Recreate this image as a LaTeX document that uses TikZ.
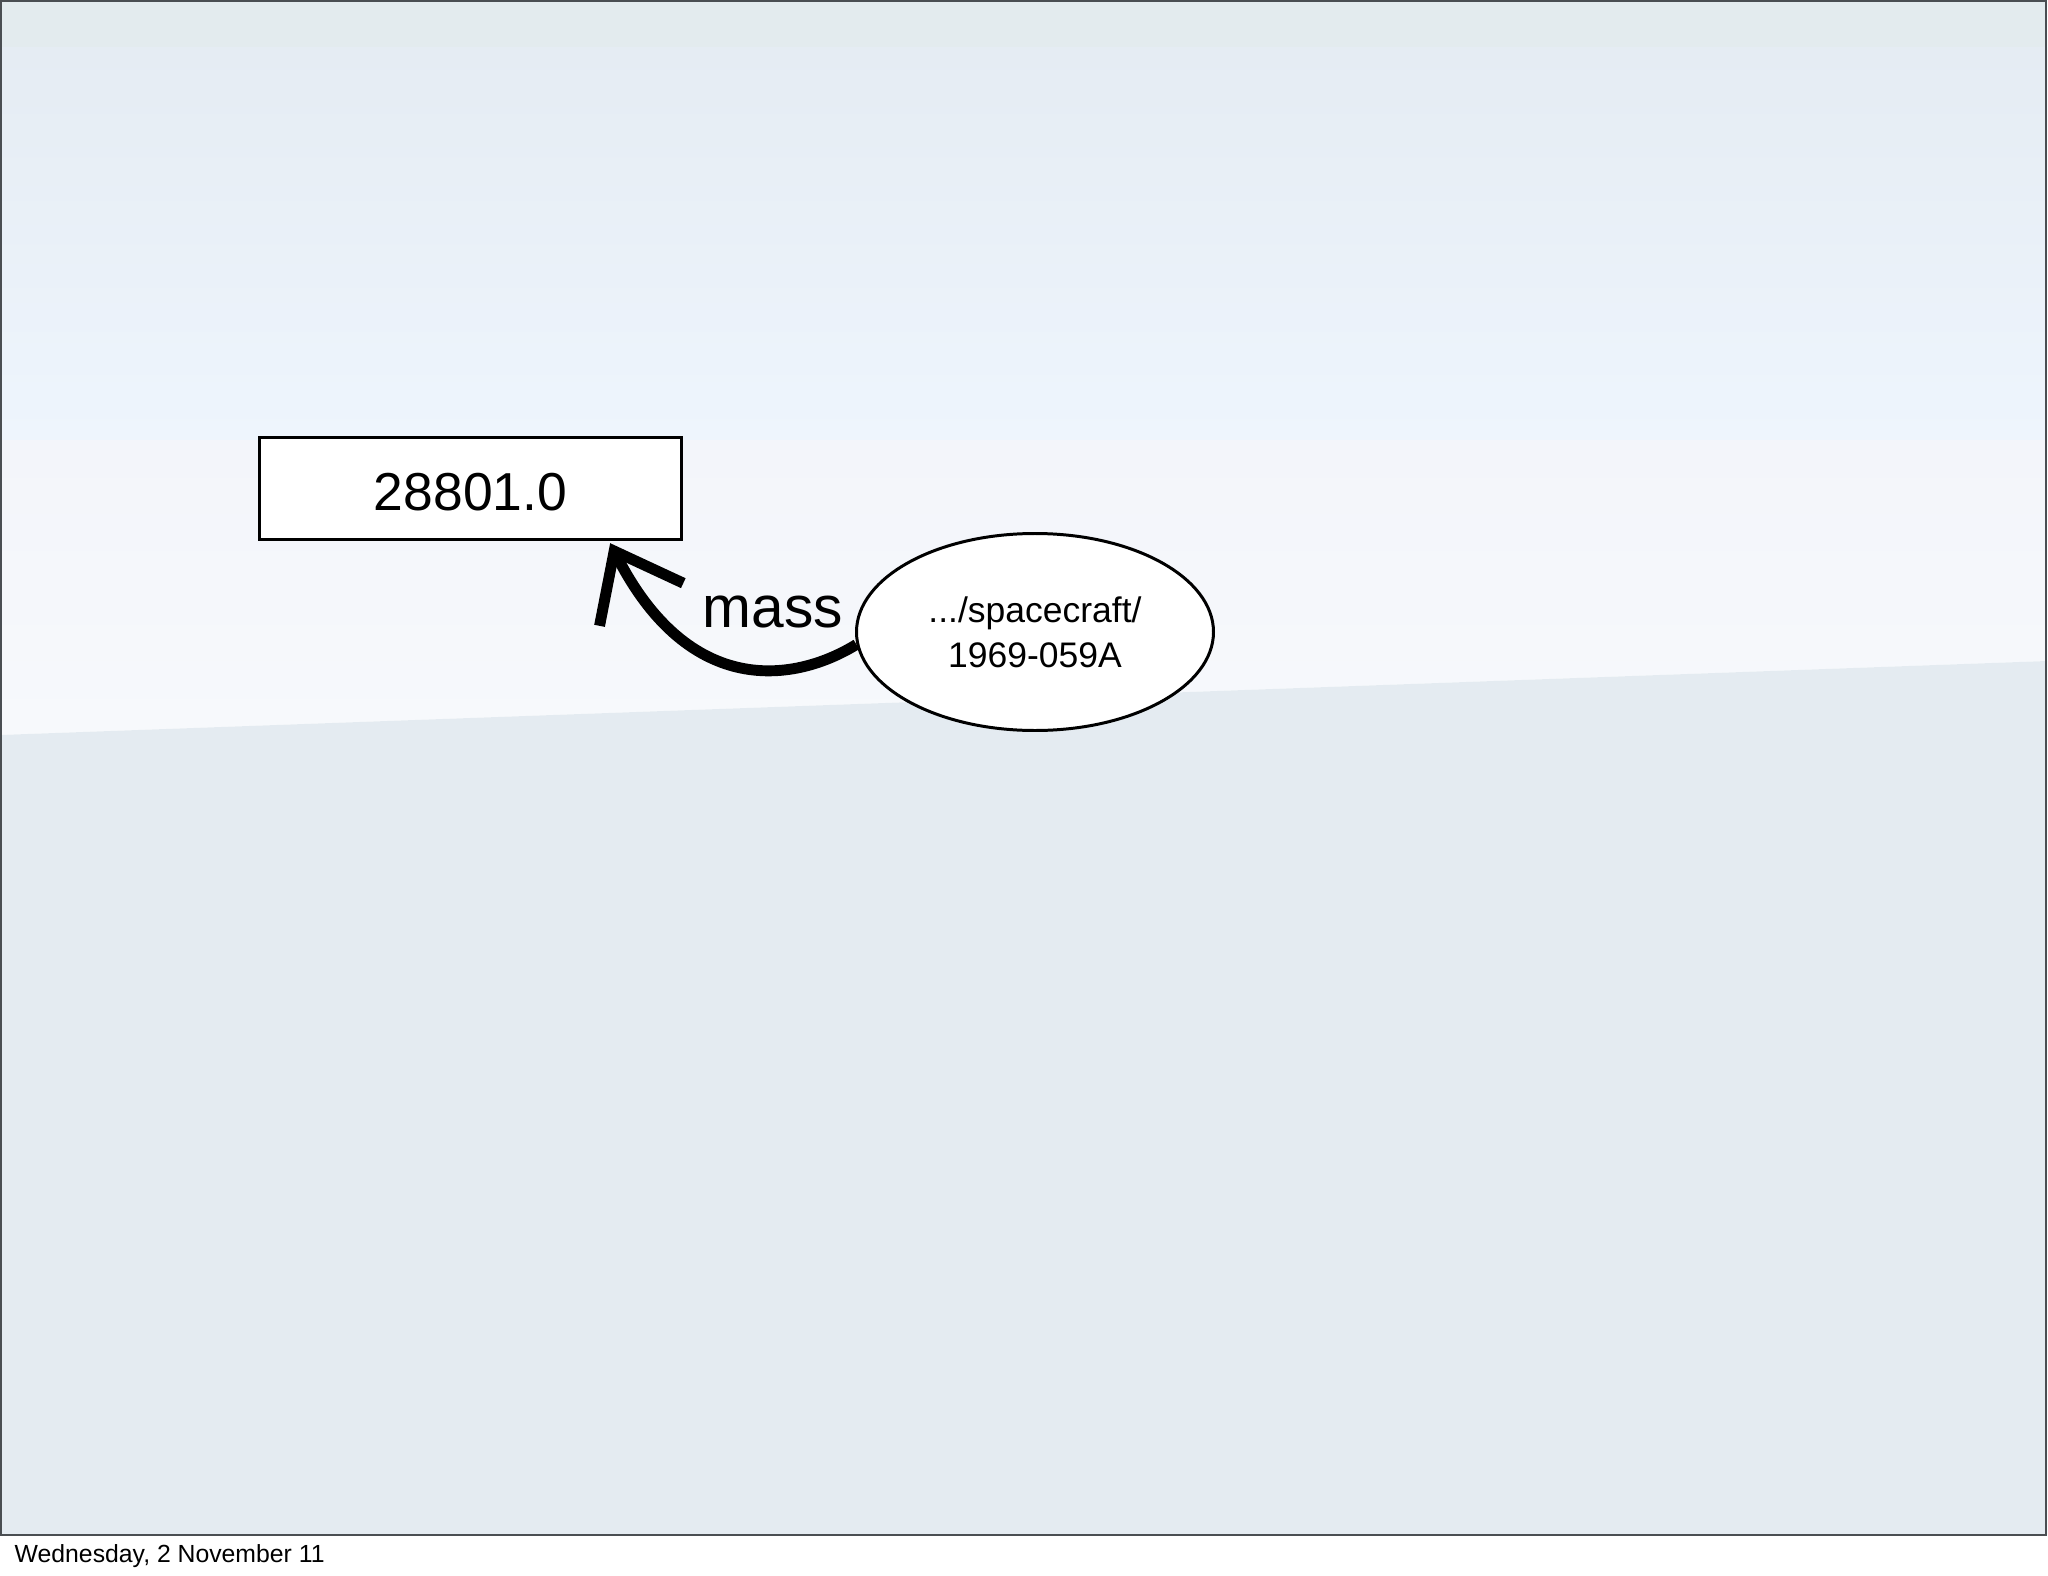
\documentclass[tikz,border=0pt]{standalone}
\usepackage{fontspec}
\setmainfont{Liberation Sans}
\usetikzlibrary{shapes.geometric, arrows.meta, positioning, calc}
\usepackage{xcolor}
\definecolor{slideband}{HTML}{E3EBEE}
\definecolor{slidetop}{HTML}{E5ECF3}
\definecolor{slidemid}{HTML}{EEF5FD}
\definecolor{slidepale}{HTML}{F3F5FA}
\definecolor{slidelow}{HTML}{F7F9FC}
\definecolor{slidebase}{HTML}{E4EBF1}
\definecolor{framegray}{HTML}{4A4E52}

\begin{document}
\begin{tikzpicture}[
        valbox/.style={rectangle, draw, line width=0.95pt, fill=white, minimum width=4.22cm, minimum height=1.02cm, text height=0.44cm, text depth=0pt, font=\fontsize{15.2}{18}\selectfont},
        res/.style={ellipse, draw, line width=0.85pt, fill=white, minimum width=3.57cm, minimum height=1.97cm, inner sep=0pt, align=center, font=\fontsize{10.1}{12.8}\selectfont},
        link/.style={-{Straight Barb[length=6mm, width=9.4mm]}, line width=3.1pt},
        lbl/.style={font=\fontsize{16.7}{20}\selectfont}
    ]
        \useasboundingbox (0,0) rectangle (20.48,-15.76);

        % Slide background
        \fill[slideband] (0,0) rectangle (20.47,-0.48);
        \shade[top color=slidetop, bottom color=slidemid] (0,-0.48) rectangle (20.47,-4.4);
        \shade[top color=slidepale, bottom color=slidelow] (0,-4.4) -- (20.47,-4.4) -- (20.47,-6.61) -- (0,-7.35) -- cycle;
        \fill[slidebase] (0,-7.35) -- (20.47,-6.61) -- (20.47,-15.35) -- (0,-15.35) -- cycle;
        \draw[framegray, line width=0.7pt] (0.01,-0.01) rectangle (20.46,-15.35);

        % Value and resource
        \node[valbox] (val) at (4.705,-4.885) {28801.0};
        \node[res] (craft) at (10.35,-6.32) {.../spacecraft/\\1969-059A};

        % Property arc
        \node[lbl, anchor=base] (masslbl) at (7.73,-6.27) {mass};
        \draw[link] (craft.184) .. controls +(-0.6,-0.37) and +(0.8,-1.57) .. ([xshift=-0.73cm, yshift=-0.02cm]val.south east);

        % Footer
        \node[anchor=base west, inner sep=0pt, font=\fontsize{7.05}{8}\selectfont] (date) at (0.14,-15.62) {Wednesday, 2 November 11};
    \end{tikzpicture}
\end{document}
